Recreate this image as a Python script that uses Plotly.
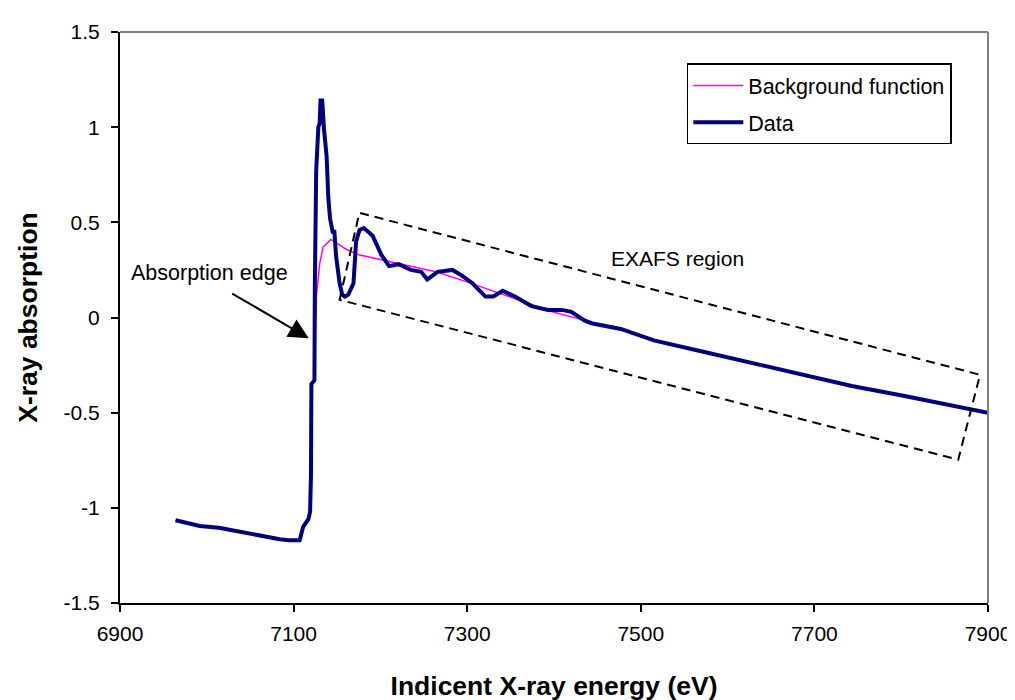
import plotly.graph_objects as go

# ---- data ----
data_energy = [6964, 6992, 7014, 7054, 7069, 7084, 7095, 7107, 7111, 7117, 7119, 7120,
               7120.5, 7124, 7124.5, 7126, 7128.5, 7130, 7131, 7133, 7135, 7138, 7140,
               7142, 7145, 7147, 7149, 7153, 7156, 7159, 7163, 7169, 7172, 7176, 7181,
               7191, 7201, 7210, 7221, 7235, 7247, 7254, 7266, 7283, 7294, 7306, 7321,
               7330, 7341, 7355, 7374, 7393, 7409, 7420, 7435, 7443, 7477, 7515, 7572,
               7629, 7686, 7743, 7801, 7858, 7900]
data_abs = [-1.065, -1.095, -1.105, -1.14, -1.155, -1.165, -1.17, -1.17, -1.10, -1.06, -1.02, -0.83,
            -0.35, -0.33, 0.18, 0.77, 1.0, 1.02, 1.14, 1.14, 0.99, 0.85, 0.63,
            0.52, 0.45, 0.45, 0.32, 0.18, 0.12, 0.11, 0.12, 0.18, 0.40, 0.46, 0.47,
            0.43, 0.33, 0.27, 0.28, 0.25, 0.24, 0.20, 0.24, 0.25, 0.22, 0.18, 0.11,
            0.11, 0.14, 0.11, 0.06, 0.04, 0.04, 0.03, -0.015, -0.03, -0.06, -0.12, -0.18,
            -0.24, -0.30, -0.36, -0.41, -0.46, -0.50]

bg_energy = [6964, 6992, 7014, 7054, 7069, 7084, 7095, 7107, 7111, 7117, 7119, 7120,
             7120.5, 7124, 7126, 7130, 7134, 7140, 7143, 7150, 7160, 7175, 7206, 7235,
             7264, 7298, 7329, 7359, 7398, 7435, 7477, 7515, 7572, 7629, 7686, 7743,
             7801, 7858, 7900]
bg_abs = [-1.065, -1.095, -1.105, -1.14, -1.155, -1.165, -1.17, -1.17, -1.10, -1.06, -1.02, -0.83,
          -0.35, -0.33, 0.10, 0.28, 0.37, 0.40, 0.41, 0.39, 0.36, 0.33, 0.30, 0.27,
          0.24, 0.19, 0.14, 0.09, 0.03, -0.015, -0.065, -0.115, -0.18, -0.24, -0.30, -0.36,
          -0.41, -0.46, -0.50]

x_tick_vals = [6900, 7100, 7300, 7500, 7700, 7900]
x_tick_text = ["6900", "7100", "7300", "7500", "7700", "7900"]
y_tick_vals = [1.5, 1.0, 0.5, 0.0, -0.5, -1.0, -1.5]
y_tick_text = ["1.5", "1", "0.5", "0", "-0.5", "-1", "-1.5"]

# EXAFS region box corners (energy, absorption)
box_energy = [7153, 7175.7, 7890.8, 7865.7]
box_abs = [0.093, 0.550, -0.301, -0.747]

FONT = "Liberation Sans, Arial, sans-serif"

fig = go.Figure()
fig.add_trace(go.Scatter(x=bg_energy, y=bg_abs, mode="lines", name="Background function",
                         line=dict(color="#FF00FF", width=1.5), legendgroup="a"))
fig.add_trace(go.Scatter(x=data_energy, y=data_abs, mode="lines", name="Data",
                         line=dict(color="#000080", width=4), legendgroup="b"))

path = "M {} {} L {} {} L {} {} L {} {} Z".format(
    box_energy[0], box_abs[0], box_energy[1], box_abs[1],
    box_energy[2], box_abs[2], box_energy[3], box_abs[3])
fig.add_shape(type="path", path=path, xref="x", yref="y",
              line=dict(color="black", width=2, dash="9px,6px"))

# grey frame top/right
fig.add_shape(type="line", xref="paper", yref="paper", x0=0, y0=1, x1=1, y1=1,
              line=dict(color="#808080", width=2))
fig.add_shape(type="line", xref="paper", yref="paper", x0=1, y0=0, x1=1, y1=1,
              line=dict(color="#808080", width=2))

fig.add_annotation(x=7003, y=0.234, xref="x", yref="y", text="Absorption edge",
                   showarrow=False, font=dict(family=FONT, size=21.5, color="black"))
fig.add_annotation(x=7117.4, y=-0.109, xref="x", yref="y", text="",
                   font=dict(size=1), borderpad=0,
                   showarrow=True, ax=-77, ay=-45, arrowhead=2, arrowsize=2,
                   arrowwidth=2, arrowcolor="black")
fig.add_annotation(x=7542, y=0.311, xref="x", yref="y", text="EXAFS region",
                   showarrow=False, font=dict(family=FONT, size=21, color="black"))

fig.update_layout(
    width=1015, height=700,
    margin=dict(l=112, r=29, t=24, b=98),
    paper_bgcolor="white", plot_bgcolor="white",
    font=dict(family=FONT, size=21, color="black"),
    showlegend=True,
    legend=dict(x=0.653, y=0.945, xanchor="left", yanchor="top",
                bordercolor="black", borderwidth=1.5, bgcolor="white",
                font=dict(family=FONT, size=21.5, color="black"),
                itemwidth=50, tracegroupgap=6),
    xaxis=dict(range=[6900, 7900], tickvals=x_tick_vals, ticktext=x_tick_text,
               showgrid=False, zeroline=False, showline=True, linecolor="black",
               linewidth=2, ticks="outside", ticklen=7, tickwidth=1.5, tickcolor="black",
               ticklabelstandoff=4,
               title=dict(text="<b>Indicent X-ray energy (eV)</b>",
                          font=dict(family=FONT, size=26.5), standoff=32)),
    yaxis=dict(range=[-1.5, 1.5], tickvals=y_tick_vals, ticktext=y_tick_text,
               showgrid=False, zeroline=False, showline=True, linecolor="black",
               linewidth=2, ticks="outside", ticklen=7, tickwidth=1.5, tickcolor="black",
               ticklabelstandoff=7,
               title=dict(text="<b>X-ray absorption</b>",
                          font=dict(family=FONT, size=26.5), standoff=18)),
)

fig.write_html("out.html")
